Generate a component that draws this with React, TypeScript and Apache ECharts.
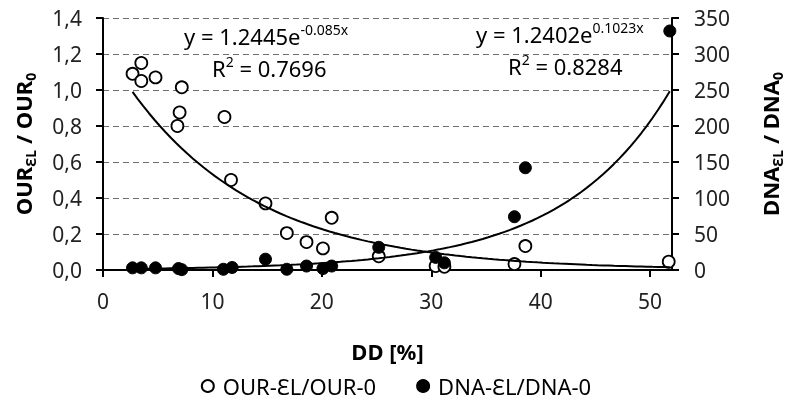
import React, { useEffect, useRef } from "react";
import * as echarts from "echarts";

// OUR-ƐL/OUR-0 (open circles, left axis)
const ourX = [2.7, 3.5, 3.5, 4.8, 7.2, 7.0, 6.8, 11.1, 11.7, 14.85, 16.8, 18.6, 20.1, 20.9, 25.2, 30.4, 31.2, 37.6, 38.6, 51.7];
const ourY = [1.09, 1.15, 1.05, 1.07, 1.015, 0.875, 0.80, 0.85, 0.50, 0.37, 0.205, 0.155, 0.12, 0.29, 0.076, 0.022, 0.018, 0.033, 0.133, 0.046];

// DNA-ƐL/DNA-0 (filled circles, right axis)
const dnaX = [2.7, 3.5, 4.8, 6.9, 7.2, 11.0, 11.8, 14.85, 16.8, 18.6, 20.1, 20.9, 25.2, 30.4, 31.2, 37.6, 38.6, 51.8];
const dnaY = [3, 3, 3, 2, 0.5, 1, 3.5, 15, 1, 5.5, 2, 5.5, 31.5, 17.5, 10, 74, 142, 332];

// Trendline coefficients shown on the chart
const ourA = 1.2445, ourB = -0.085;
const dnaA = 1.2402, dnaB = 0.1023;
const trendStart = 2.7, trendEnd = 51.8, trendStep = 0.5;

const xTicks = { min: 0, max: 52, interval: 10 };
const leftTicks = { min: 0, max: 1.4, interval: 0.2 };
const rightTicks = { min: 0, max: 350, interval: 50 };

const FONT = "Noto Sans";

function trend(a: number, b: number): number[][] {
  const pts: number[][] = [];
  for (let x = trendStart; x < trendEnd; x += trendStep) pts.push([x, a * Math.exp(b * x)]);
  pts.push([trendEnd, a * Math.exp(b * trendEnd)]);
  return pts;
}

export default function App() {
  const ref = useRef<HTMLDivElement>(null);
  useEffect(() => {
    document.body.style.margin = "0";
    const chart = echarts.init(ref.current!, undefined, { renderer: "svg" });
    const nameRich = {
      b: { fontFamily: FONT, fontSize: 22, fontWeight: "bold", color: "#000", lineHeight: 28, verticalAlign: "middle" },
      s: { fontFamily: FONT, fontSize: 14, fontWeight: "bold", color: "#000", lineHeight: 28, verticalAlign: "bottom", padding: [12, 0, 0, 0] },
    };
    const eqRich = {
      m: { fontFamily: FONT, fontSize: 22, color: "#000", lineHeight: 28 },
      p: { fontFamily: FONT, fontSize: 14, color: "#000", lineHeight: 28, verticalAlign: "top", padding: [0, 0, 12, 0] },
    };
    const tickFont = { fontFamily: FONT, fontSize: 21, color: "#222" };
    chart.setOption({
      animation: false,
      grid: { left: 103, right: 104, top: 18, bottom: 142, show: false },
      legend: {
        top: 370,
        left: "center",
        itemGap: 40,
        itemWidth: 12,
        itemHeight: 12,
        textStyle: { fontFamily: FONT, fontSize: 22, color: "#000", padding: [0, 0, 0, 4] },
        data: [
          { name: "OUR-ƐL/OUR-0", icon: "circle" },
          { name: "DNA-ƐL/DNA-0", icon: "circle" },
        ],
      },
      xAxis: {
        type: "value",
        min: xTicks.min,
        max: xTicks.max,
        interval: xTicks.interval,
        name: "DD [%]",
        nameLocation: "middle",
        nameGap: 70,
        nameTextStyle: { fontFamily: FONT, fontSize: 22, fontWeight: "bold", color: "#000", verticalAlign: "top" },
        axisLine: { lineStyle: { color: "#000", width: 2 } },
        axisTick: { length: 7, lineStyle: { color: "#000", width: 2 } },
        axisLabel: { ...tickFont, margin: 20, showMaxLabel: false },
        splitLine: { show: false },
      },
      yAxis: [
        {
          type: "value",
          min: leftTicks.min,
          max: leftTicks.max,
          interval: leftTicks.interval,
          name: "{b|OUR}{s|ƐL}{b| / OUR}{s|0}",
          nameLocation: "middle",
          nameRotate: 90,
          nameGap: 66,
          nameTextStyle: { rich: nameRich },
          axisLine: { show: true, lineStyle: { color: "#000", width: 2 } },
          axisTick: { show: true, length: 7, lineStyle: { color: "#000", width: 2 } },
          axisLabel: {
            ...tickFont,
            margin: 21,
            formatter: (v: number) => v.toFixed(1).replace(".", ","),
          },
          splitLine: { show: true, lineStyle: { color: "#6e6e6e", type: [6, 4], width: 1.2 } },
        },
        {
          type: "value",
          min: rightTicks.min,
          max: rightTicks.max,
          interval: rightTicks.interval,
          position: "right",
          name: "{b|DNA}{s|ƐL}{b| / DNA}{s|0}",
          nameLocation: "middle",
          nameRotate: 90,
          nameGap: 84,
          nameTextStyle: { rich: nameRich },
          axisLine: { show: true, lineStyle: { color: "#000", width: 2 } },
          axisTick: { show: true, length: 7, lineStyle: { color: "#000", width: 2 } },
          axisLabel: { ...tickFont, margin: 22 },
          splitLine: { show: false },
        },
      ],
      series: [
        {
          name: "OUR-ƐL/OUR-0",
          type: "scatter",
          yAxisIndex: 0,
          symbol: "circle",
          symbolSize: 12,
          itemStyle: { color: "#fff", borderColor: "#000", borderWidth: 1.8, opacity: 1 },
          data: ourX.map((x, i) => [x, ourY[i]]),
          z: 3,
        },
        {
          name: "DNA-ƐL/DNA-0",
          type: "scatter",
          yAxisIndex: 1,
          symbol: "circle",
          symbolSize: 12,
          itemStyle: { color: "#000", borderColor: "#000", borderWidth: 1, opacity: 1 },
          data: dnaX.map((x, i) => [x, dnaY[i]]),
          z: 3,
        },
        {
          name: "ourTrend",
          type: "line",
          yAxisIndex: 0,
          showSymbol: false,
          symbol: "none",
          lineStyle: { color: "#000", width: 2 },
          data: trend(ourA, ourB),
          z: 4,
          silent: true,
        },
        {
          name: "dnaTrend",
          type: "line",
          yAxisIndex: 1,
          showSymbol: false,
          symbol: "none",
          lineStyle: { color: "#000", width: 2 },
          data: trend(dnaA, dnaB),
          z: 4,
          silent: true,
        },
      ],
      graphic: [
        {
          type: "text",
          left: 184,
          top: 22,
          style: { text: "{m|y = 1.2445e}{p|-0.085x}", rich: eqRich },
        },
        {
          type: "text",
          left: 212,
          top: 54,
          style: { text: "{m|R}{p|2}{m| = 0.7696}", rich: eqRich },
        },
        {
          type: "text",
          left: 476,
          top: 20,
          style: { text: "{m|y = 1.2402e}{p|0.1023x}", rich: eqRich },
        },
        {
          type: "text",
          left: 508,
          top: 52,
          style: { text: "{m|R}{p|2}{m| = 0.8284}", rich: eqRich },
        },
      ],
    });
    return () => chart.dispose();
  }, []);
  return <div ref={ref} style={{ position: "fixed", left: 0, top: 0, width: 792, height: 412 }} />;
}
